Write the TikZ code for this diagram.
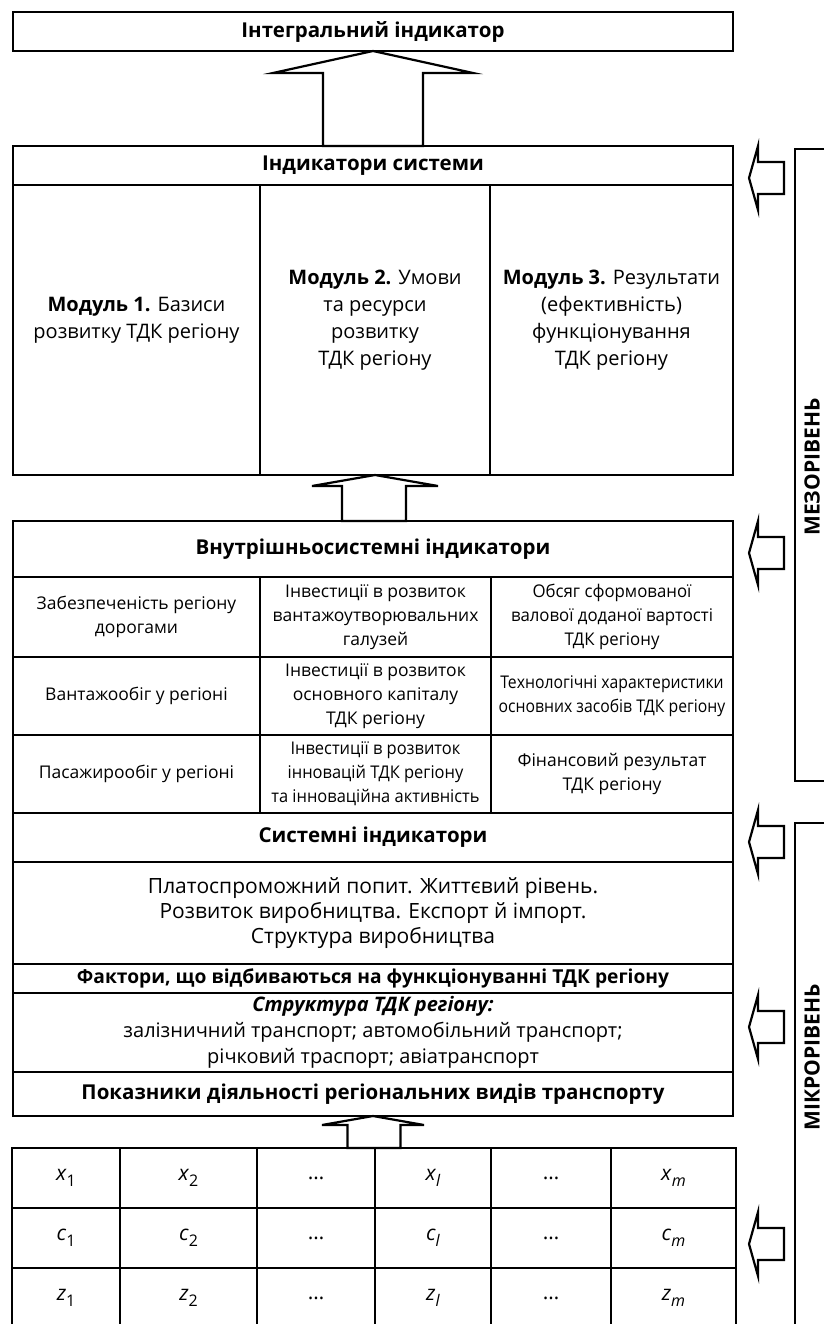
\documentclass[tikz,border=0pt]{standalone}
\usepackage{fontspec}
\usepackage{graphicx}
\setmainfont{Open Sans}
\usetikzlibrary{calc, positioning}

% up arrow: tip, foot, head half width, shaft half width, head height
\newcommand{\uparrowblock}[5]{%
  \draw[blockarrow] (#1) -- ++(-#3,#5) -- ++({#3-#4},0) |- (#2) -- ++(#4,0)
    |- ($(#1)+(#3,#5)$) -- cycle;
}
% left arrow at its tip
\newcommand{\leftarrowblock}[1]{%
  \draw[blockarrow] (#1) -- ++(9,-32) -- ++(0,16) -- ++(26,0) -- ++(0,32)
    -- ++(-26,0) -- ++(0,16) -- cycle;
}
\newcommand{\subvar}[2]{\textit{#1}\raisebox{-0.55ex}{\fontsize{16}{16}\selectfont #2}}
\newcommand{\narrow}[2]{\scalebox{#1}[1]{\begin{tabular}{@{}c@{}}#2\end{tabular}}}

\begin{document}
\begin{tikzpicture}[x=1pt, y=-1pt, node distance=0pt]
        \useasboundingbox (0,0) rectangle (824,1324);
        \tikzstyle{every node}=[inner sep=0pt, outer sep=0pt]
        \tikzstyle{box}=[draw, line width=2.4pt, align=center, minimum width=720,
          font=\fontsize{21}{25}\selectfont]
        \tikzstyle{header}=[box, font=\bfseries\fontsize{20.5}{24}\selectfont]
        \tikzstyle{modtext}=[align=center, font=\fontsize{20}{27}\selectfont]
        \tikzstyle{cell}=[draw, line width=2.2pt, align=center,
          font=\fontsize{17.5}{24}\selectfont]
        \tikzstyle{var}=[draw, line width=2.2pt, minimum height=60,
          font=\fontsize{21}{24}\selectfont]
        \tikzstyle{blockarrow}=[draw, fill=white, line width=2.2pt, line join=miter]
        \tikzstyle{bracket}=[draw, line width=2.2pt]
        \tikzstyle{level}=[rotate=90, font=\bfseries\fontsize{21}{24}\selectfont]

        % Top
        \node[header, minimum height=39] (integ) at (373,31.5) {Інтегральний індикатор};
        \node[header, minimum height=39] (sysind) at (373,165.5) {Індикатори системи};

        % Modules
        \node[box, minimum width=247, minimum height=290, anchor=north west]
          (mod1) at (sysind.south west) {};
        \node[box, minimum width=230, minimum height=290, right=of mod1] (mod2) {};
        \node[box, minimum width=243, minimum height=290, right=of mod2] (mod3) {};
        \node[modtext] (mod1txt) at ([yshift=10]mod1.center)
          {\textbf{Модуль 1.} Базиси\\розвитку ТДК регіону};
        \node[modtext] (mod2txt) at ([yshift=10]mod2.center)
          {\textbf{Модуль 2.} Умови\\та ресурси\\розвитку\\ТДК регіону};
        \node[modtext] (mod3txt) at ([yshift=10]mod3.center)
          {\textbf{Модуль 3.} Результати\\(ефективність)\\функціонування\\ТДК регіону};

        % Inner indicators
        \node[header, minimum height=56] (inner) at (373,549) {Внутрішньосистемні індикатори};
        \node[cell, minimum width=247, minimum height=80, anchor=north west]
          (c11) at (inner.south west) {Забезпеченість регіону\\дорогами};
        \node[cell, minimum width=231, minimum height=80, right=of c11]
          (c12) {Інвестиції в розвиток\\вантажоутворювальних\\галузей};
        \node[cell, minimum width=242, minimum height=80, right=of c12]
          (c13) {\narrow{0.96}{Обсяг сформованої\\валової доданої вартості\\ТДК регіону}};
        \node[cell, minimum width=247, minimum height=78, below=of c11]
          (c21) {Вантажообіг у регіоні};
        \node[cell, minimum width=231, minimum height=78, right=of c21]
          (c22) {Інвестиції в розвиток\\основного капіталу\\ТДК регіону};
        \node[cell, minimum width=242, minimum height=78, right=of c22]
          (c23) {\narrow{0.9}{Технологічні характеристики\\основних засобів ТДК регіону}};
        \node[cell, minimum width=247, minimum height=78, below=of c21]
          (c31) {Пасажирообіг у регіоні};
        \node[cell, minimum width=231, minimum height=78, right=of c31]
          (c32) {\narrow{0.94}{Інвестиції в розвиток\\інновацій ТДК регіону\\та інноваційна активність}};
        \node[cell, minimum width=242, minimum height=78, right=of c32]
          (c33) {Фінансовий результат\\ТДК регіону};

        % System indicators and factors
        \node[header, minimum height=49, anchor=north west] (sysi) at (c31.south west) {Системні індикатори};
        \node[box, minimum height=102, below=of sysi]
          (demand) {Платоспроможний попит. Життєвий рівень.\\Розвиток виробництва. Експорт й імпорт.\\Структура виробництва};
        \node[header, minimum height=29, below=of demand, font=\bfseries\fontsize{19.2}{24}\selectfont]
          (factors) {Фактори, що відбиваються на функціонуванні ТДК регіону};
        \node[box, minimum height=79, below=of factors, font=\fontsize{20}{26}\selectfont]
          (struct) {\textbf{\textit{Структура ТДК регіону:}}\\залізничний транспорт; автомобільний транспорт;\\річковий траспорт; авіатранспорт};
        \node[header, minimum height=44, below=of struct] (transp)
          {Показники діяльності регіональних видів транспорту};

        % Variables
        \node[var, minimum width=108, anchor=north west] (x1) at (12,1148) {\subvar{x}{1}};
        \node[var, minimum width=137, right=of x1] (x2) {\subvar{x}{2}};
        \node[var, minimum width=118, right=of x2] (x3) {\ldots};
        \node[var, minimum width=116, right=of x3] (xl) {\subvar{x}{\textit{l}}};
        \node[var, minimum width=120, right=of xl] (x5) {\ldots};
        \node[var, minimum width=125, right=of x5] (xm) {\subvar{x}{\textit{m}}};
        \node[var, minimum width=108, below=of x1] (cc1) {\subvar{c}{1}};
        \node[var, minimum width=137, right=of cc1] (cc2) {\subvar{c}{2}};
        \node[var, minimum width=118, right=of cc2] (cc3) {\ldots};
        \node[var, minimum width=116, right=of cc3] (ccl) {\subvar{c}{\textit{l}}};
        \node[var, minimum width=120, right=of ccl] (cc5) {\ldots};
        \node[var, minimum width=125, right=of cc5] (ccm) {\subvar{c}{\textit{m}}};
        \node[var, minimum width=108, below=of cc1] (z1) {\subvar{z}{1}};
        \node[var, minimum width=137, right=of z1] (z2) {\subvar{z}{2}};
        \node[var, minimum width=118, right=of z2] (z3) {\ldots};
        \node[var, minimum width=116, right=of z3] (zl) {\subvar{z}{\textit{l}}};
        \node[var, minimum width=120, right=of zl] (z5) {\ldots};
        \node[var, minimum width=125, right=of z5] (zm) {\subvar{z}{\textit{m}}};

        % Arrows up
        \uparrowblock{integ.south}{sysind.north}{100}{50}{22}
        \uparrowblock{mod2.south}{inner.north}{63}{33}{11}
        \uparrowblock{transp.south}{x3.north east}{51}{25.5}{9}

        % Arrows from the levels
        \leftarrowblock{749,178}
        \leftarrowblock{749,553}
        \leftarrowblock{749,842}
        \leftarrowblock{749,1027}
        \leftarrowblock{749,1244}

        % Levels
        \draw[bracket] (824,149) -- (795,149) -- (795,781) -- (824,781);
        \draw[bracket] (824,823) -- (795,823) -- (795,1340);
        \node[level] (meso) at (812,467) {МЕЗОРІВЕНЬ};
        \node[level] (micro) at (812,1057) {МІКРОРІВЕНЬ};

      \end{tikzpicture}
\end{document}
